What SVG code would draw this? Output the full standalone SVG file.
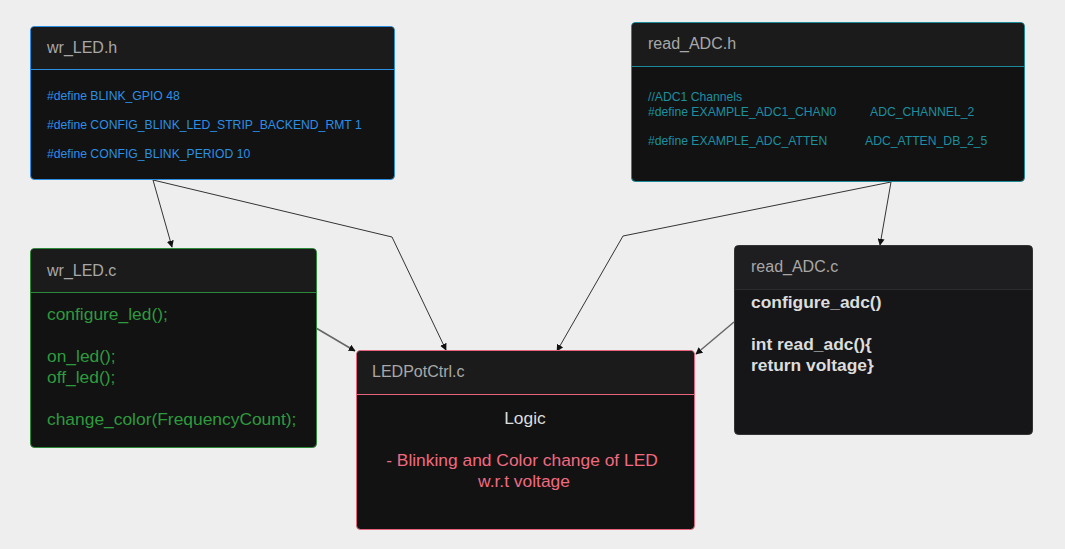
<svg xmlns="http://www.w3.org/2000/svg" width="1065" height="549" viewBox="0 0 1065 549">
<defs>
<style>
.hdr{fill:#1b1b1b}
.body{fill:#121212}
.title{font-family:"Liberation Sans",Arial,sans-serif;font-size:16px;fill:#a8a8a8}
.t12{font-family:"Liberation Sans",Arial,sans-serif;font-size:12.2px}
.t16{font-family:"Liberation Sans",Arial,sans-serif;font-size:17.4px}
.conn{fill:none;stroke:#333;stroke-width:1}
.conn2{fill:none;stroke:#666;stroke-width:1.5}
</style>
<marker id="arr" viewBox="0 0 10 10" refX="9" refY="5" markerWidth="7" markerHeight="7" orient="auto" markerUnits="userSpaceOnUse">
<path d="M0,0 L10,5 L0,10 Z" fill="#111"/>
</marker>
</defs>
<rect width="1065" height="549" fill="#eeeeee"/>

<g id="connectors">
<path class="conn" d="M153,180 L172,247" marker-end="url(#arr)"/>
<path class="conn" d="M153,180 L392,237 L446,350" marker-end="url(#arr)"/>
<path class="conn" d="M891,182 L880,245" marker-end="url(#arr)"/>
<path class="conn" d="M891,182 L623,236 L557,351" marker-end="url(#arr)"/>
<path class="conn2" d="M316,328 L355,351" marker-end="url(#arr)"/>
<path class="conn2" d="M734,322 L696,354" marker-end="url(#arr)"/>
</g>

<g id="wr_LED_h">
<rect x="30.5" y="26.5" width="364" height="153" rx="4" class="body" stroke="#2b8fe6"/>
<path d="M31,30 a4,4 0 0 1 4,-3 H390 a4,4 0 0 1 4,4 V69 H31 Z" class="hdr"/>
<line x1="31" y1="69.5" x2="394" y2="69.5" stroke="#2b8fe6"/>
<text x="47" y="53" class="title">wr_LED.h</text>
<text class="t12" fill="#2b8fe6"><tspan x="47" y="100">#define BLINK_GPIO 48</tspan><tspan x="47" y="129">#define CONFIG_BLINK_LED_STRIP_BACKEND_RMT 1</tspan><tspan x="47" y="158">#define CONFIG_BLINK_PERIOD 10</tspan></text>
</g>

<g id="read_ADC_h">
<rect x="631.5" y="22.5" width="393" height="159" rx="4" class="body" stroke="#1c8a99"/>
<path d="M632,26 a4,4 0 0 1 4,-3 H1020 a4,4 0 0 1 4,4 V66 H632 Z" class="hdr"/>
<line x1="632" y1="66.5" x2="1024" y2="66.5" stroke="#1c8a99"/>
<text x="648" y="49" class="title">read_ADC.h</text>
<text class="t12" fill="#1c8fa0"><tspan x="648" y="101">//ADC1 Channels</tspan><tspan x="648" y="116">#define EXAMPLE_ADC1_CHAN0</tspan><tspan x="648" y="145">#define EXAMPLE_ADC_ATTEN</tspan></text>
<text class="t12" fill="#1c8fa0"><tspan x="870" y="116">ADC_CHANNEL_2</tspan><tspan x="865" y="145">ADC_ATTEN_DB_2_5</tspan></text>
</g>

<g id="wr_LED_c">
<rect x="30.5" y="248.5" width="286" height="199" rx="4" class="body" stroke="#2a8a3a"/>
<path d="M31,252 a4,4 0 0 1 4,-3 H312 a4,4 0 0 1 4,4 V292 H31 Z" class="hdr"/>
<line x1="31" y1="292.5" x2="316" y2="292.5" stroke="#2a8a3a"/>
<text x="47" y="276" class="title">wr_LED.c</text>
<text class="t16" fill="#2e9a3e"><tspan x="47" y="320">configure_led();</tspan><tspan x="47" y="362">on_led();</tspan><tspan x="47" y="383">off_led();</tspan><tspan x="47" y="425">change_color(FrequencyCount);</tspan></text>
</g>

<g id="LEDPotCtrl_c">
<rect x="356.5" y="350.5" width="338" height="179" rx="4" class="body" stroke="#e8647c"/>
<path d="M357,354 a4,4 0 0 1 4,-3 H690 a4,4 0 0 1 4,4 V394 H357 Z" class="hdr"/>
<line x1="357" y1="394.5" x2="694" y2="394.5" stroke="#e8647c"/>
<text x="372" y="377" class="title">LEDPotCtrl.c</text>
<text x="525" y="424" class="t16" fill="#dddddd" text-anchor="middle">Logic</text>
<text class="t16" fill="#f06a80" text-anchor="middle"><tspan x="522" y="466">- Blinking and Color change of LED</tspan><tspan x="524" y="487">w.r.t voltage</tspan></text>
</g>

<g id="read_ADC_c">
<rect x="734.5" y="245.5" width="298" height="189" rx="4" fill="#161618" stroke="#333"/>
<path d="M735,249 a4,4 0 0 1 4,-3 H1028 a4,4 0 0 1 4,4 V289 H735 Z" fill="#1e1e20"/>
<line x1="735" y1="289.5" x2="1032" y2="289.5" stroke="#2c2c2e"/>
<text x="751" y="272" class="title">read_ADC.c</text>
<text class="t16" fill="#dddddd" font-weight="bold"><tspan x="751" y="308">configure_adc()</tspan><tspan x="751" y="350">int read_adc(){</tspan><tspan x="751" y="371">return voltage}</tspan></text>
</g>
</svg>
